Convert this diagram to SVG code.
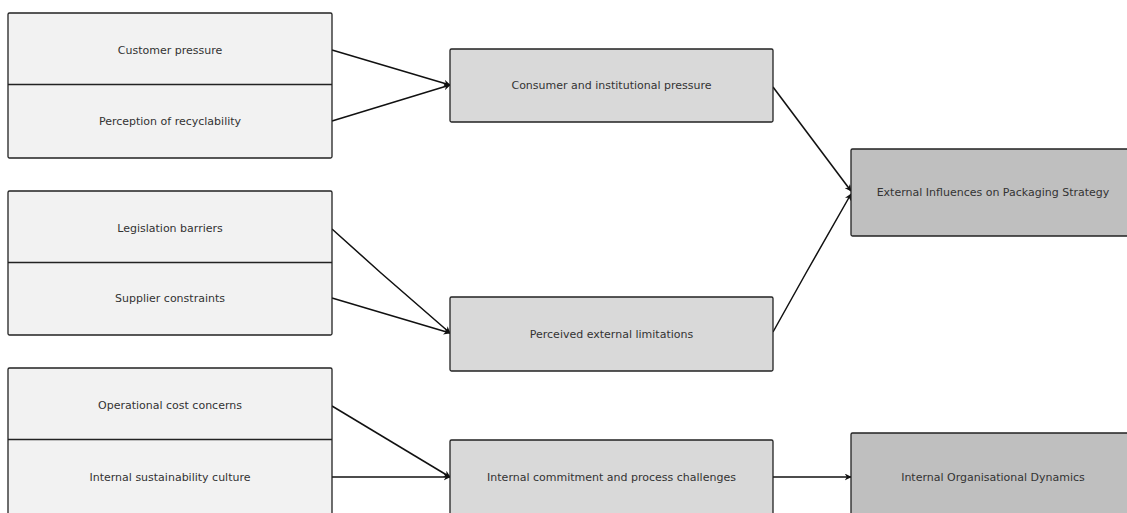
<svg xmlns="http://www.w3.org/2000/svg" width="1127" height="513" viewBox="0 0 1127 513">
<style>
.leaf{fill:#f2f2f2;stroke:#222;stroke-width:1.3}
.mid{fill:#d9d9d9;stroke:#222;stroke-width:1.3}
.top{fill:#bfbfbf;stroke:#222;stroke-width:1.3}
.sep{stroke:#222;stroke-width:1.3}
text{font-family:"DejaVu Sans",sans-serif;font-size:11px;fill:#333;text-anchor:middle;dominant-baseline:central}
.e{fill:none;stroke:#111;stroke-width:1.5;marker-end:url(#ah)}
</style>
<defs>
<marker id="ah" viewBox="0 0 10 10" refX="9" refY="5" markerWidth="7" markerHeight="7" markerUnits="userSpaceOnUse" orient="auto">
<path d="M0,0 L10,5 L0,10 L3,5 z" fill="#111"/>
</marker>
</defs>
<rect width="1127" height="513" fill="#fff"/>
<g id="connectors">
<line class="e" x1="332" y1="50" x2="450" y2="85"/>
<line class="e" x1="332" y1="121" x2="450" y2="85"/>
<polyline class="e" points="332,229 381,273 450,333"/>
<line class="e" x1="332" y1="298" x2="450" y2="333"/>
<line class="e" x1="773" y1="87" x2="851" y2="191"/>
<polyline class="e" points="773,332 806,273 851,194"/>
<line class="e" x1="332" y1="406" x2="450" y2="477"/>
<line class="e" x1="332" y1="477" x2="450" y2="477"/>
<line class="e" x1="773" y1="477" x2="851" y2="477"/>
</g>
<g id="group-external-pressure">
<rect class="leaf" x="8" y="13" width="324" height="145" rx="1.5"/>
<line class="sep" x1="8" y1="84.5" x2="332" y2="84.5"/>
</g>
<g id="customer-pressure"><text x="170" y="50">Customer pressure</text></g>
<g id="perception-recyclability"><text x="170" y="121">Perception of recyclability</text></g>
<g id="group-limitations">
<rect class="leaf" x="8" y="191" width="324" height="144" rx="1.5"/>
<line class="sep" x1="8" y1="262.5" x2="332" y2="262.5"/>
</g>
<g id="legislation-barriers"><text x="170" y="228">Legislation barriers</text></g>
<g id="supplier-constraints"><text x="170" y="298">Supplier constraints</text></g>
<g id="group-internal">
<rect class="leaf" x="8" y="368" width="324" height="150" rx="1.5"/>
<line class="sep" x1="8" y1="439.5" x2="332" y2="439.5"/>
</g>
<g id="operational-cost"><text x="170" y="405">Operational cost concerns</text></g>
<g id="internal-culture"><text x="170" y="477">Internal sustainability culture</text></g>
<g id="consumer-institutional">
<rect class="mid" x="450" y="49" width="323" height="73" rx="1.5"/>
<text x="611.5" y="85">Consumer and institutional pressure</text>
</g>
<g id="perceived-limitations">
<rect class="mid" x="450" y="297" width="323" height="74" rx="1.5"/>
<text x="611.5" y="334">Perceived external limitations</text>
</g>
<g id="internal-commitment">
<rect class="mid" x="450" y="440" width="323" height="80" rx="1.5"/>
<text x="611.5" y="477">Internal commitment and process challenges</text>
</g>
<g id="external-influences">
<rect class="top" x="851" y="149" width="284" height="87" rx="1.5"/>
<text x="993" y="192.5">External Influences on Packaging Strategy</text>
</g>
<g id="internal-dynamics">
<rect class="top" x="851" y="433" width="284" height="88" rx="1.5"/>
<text x="993" y="477">Internal Organisational Dynamics</text>
</g>
</svg>
